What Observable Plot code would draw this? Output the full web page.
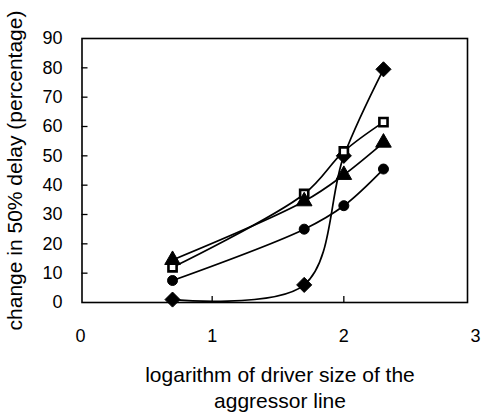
<!DOCTYPE html>
<html>
<head>
<meta charset="utf-8">
<script src="https://cdn.jsdelivr.net/npm/d3@7"></script>
<script src="https://cdn.jsdelivr.net/npm/@observablehq/plot@0.6"></script>
<style>
  html, body { margin: 0; padding: 0; background: #fff; }
  #chart { width: 482px; height: 414px; }
</style>
</head>
<body>
<div id="chart"></div>
<script>
// logarithm of driver size (log10 of 5, 50, 100, 200)
const xLog = [0.699, 1.699, 2, 2.301];
const diamondSeries = [1, 6, 50, 79.5];
const squareSeries = [12, 37, 51.5, 61.5];
const triangleSeries = [14.5, 34.5, 43.5, 54.5];
const circleSeries = [7.5, 25, 33, 45.5];

const xTicks = [1, 2];
const xTickLabels = [0, 1, 2, 3];
const yTicks = [10, 20, 30, 40, 50, 60, 70, 80];
const yTickLabels = [0, 10, 20, 30, 40, 50, 60, 70, 80, 90];

const xTitle = "logarithm of driver size of the\naggressor line";
const yTitle = "change in 50% delay (percentage)";

const series = [
  {name: "diamond", values: diamondSeries, symbol: "diamond2", fill: "black", r: 6.8},
  {name: "square", values: squareSeries, symbol: "square", fill: "white", r: 4.6},
  {name: "triangle", values: triangleSeries, symbol: "triangle", fill: "black", r: 5.8},
  {name: "circle", values: circleSeries, symbol: "circle", fill: "black", r: 5}
];

const rows = series.flatMap(s => s.values.map((v, i) => ({series: s.name, x: xLog[i], y: v})));

const marks = [
  Plot.frame({stroke: "black", strokeWidth: 1.6, insetLeft: 1.5, insetRight: 8}),
  Plot.axisY({ticks: yTicks, tickSize: -6, tickFormat: () => "", label: null, dx: 1.5, strokeWidth: 1.3}),
  Plot.axisY({ticks: yTickLabels, tickSize: 0, tickPadding: 18, label: null, fontSize: 18, tickFormat: d => String(d)}),
  Plot.axisX({ticks: xTicks, tickSize: -6, tickFormat: () => "", label: null, strokeWidth: 1.3}),
  Plot.axisX({ticks: xTickLabels, tickSize: 0, tickPadding: 27, label: null, fontSize: 18, tickFormat: d => String(d)}),
  Plot.line(rows, {x: "x", y: "y", z: "series", stroke: "black", strokeWidth: 1.7, curve: "catmull-rom"}),
  ...series.map(s => Plot.dot(rows.filter(d => d.series === s.name), {
    x: "x", y: "y", symbol: () => s.symbol, r: s.r, fill: s.fill,
    stroke: "black", strokeWidth: s.fill === "white" ? 2.6 : 1
  })),
  Plot.text([xTitle], {frameAnchor: "bottom", lineAnchor: "top", dy: 62, dx: 2, fontSize: 21, lineHeight: 1.2}),
  Plot.text([yTitle], {frameAnchor: "left", textAnchor: "middle", rotate: -90, dx: -65, fontSize: 21})
];

const chart = Plot.plot({
  width: 482,
  height: 414,
  marginLeft: 80,
  marginRight: 7,
  marginTop: 38,
  marginBottom: 112,
  x: {domain: [0, 3]},
  y: {domain: [0, 90]},
  symbol: {type: "identity"},
  style: {fontFamily: "'Liberation Sans', Arial, sans-serif", fontSize: "18px", color: "black", background: "white", overflow: "visible"},
  marks
});
document.getElementById("chart").appendChild(chart);
</script>
</body>
</html>
